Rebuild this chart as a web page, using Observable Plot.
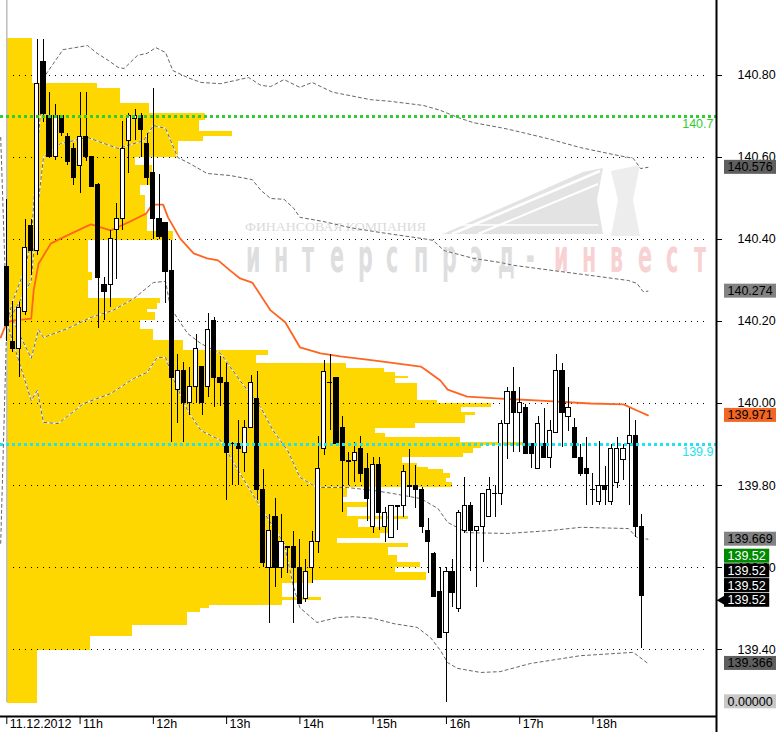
<!DOCTYPE html>
<html>
<head>
<meta charset="utf-8">
<script src="https://cdn.jsdelivr.net/npm/d3@7"></script>
<script src="https://cdn.jsdelivr.net/npm/@observablehq/plot@0.6"></script>
<style>
  html, body { margin: 0; padding: 0; background: #fff; }
  #chart { position: relative; width: 776px; height: 732px; overflow: hidden; background: #fff; }
  #chart > svg { position: absolute; left: 0; top: 0; }
</style>
</head>
<body>
<div id="chart"></div>
<script>
// ---------------- DATA ----------------
// 5-minute candles of 11.12.2012, starting 10:00
const opens = [
140.332,140.151,140.132,140.222,140.432,140.371,140.832,140.700,140.600,140.700,
140.651,140.620,140.580,140.651,140.600,140.532,140.290,140.290,140.422,140.451,
140.641,140.695,140.700,140.632,140.561,140.451,140.441,140.322,140.032,140.080,
140.000,140.041,140.090,140.041,140.200,140.061,140.051,139.902,139.900,139.880,
139.941,140.010,139.790,139.600,139.722,139.600,139.650,139.649,139.600,139.522,
139.600,139.661,139.890,140.051,140.061,139.941,139.859,139.859,139.890,139.841,
139.698,139.851,139.698,139.671,139.749,139.749,139.798,139.798,139.790,139.690,
139.632,139.541,139.441,139.590,139.500,139.688,139.751,139.688,139.698,139.722,
139.780,139.780,139.951,140.029,139.978,139.990,139.900,139.841,139.900,139.868,
139.929,140.080,139.968,139.941,139.868,139.841,139.790,139.759,139.798,139.759,
139.807,139.861,139.900,139.920,139.698,139.520];
const highs = [
140.498,140.249,140.246,140.449,140.449,140.888,140.888,140.759,140.729,140.700,
140.659,140.634,140.759,140.759,140.600,140.537,140.307,140.422,140.488,140.688,
140.707,140.717,140.707,140.659,140.768,140.559,140.441,140.398,140.120,140.100,
140.088,140.168,140.090,140.220,140.210,140.115,140.098,139.905,139.959,139.959,
140.068,140.078,139.839,139.729,139.768,139.729,139.651,139.688,139.668,139.620,
139.688,139.920,140.105,140.120,140.061,139.968,139.880,139.905,139.920,139.878,
139.868,139.868,139.746,139.749,139.750,139.849,139.888,139.849,139.795,139.720,
139.637,139.600,139.600,139.620,139.739,139.820,139.759,139.700,139.780,139.820,
139.800,139.959,140.039,140.088,140.039,139.998,139.900,139.968,139.988,139.959,
140.120,140.098,140.039,139.963,139.900,139.917,139.829,139.907,139.846,139.900,
139.917,139.900,139.988,139.959,139.729,139.520];
const lows = [
140.150,140.124,140.063,140.215,140.312,140.361,140.685,140.600,140.593,140.651,
140.580,140.532,140.512,140.590,140.529,140.183,140.202,140.234,140.302,140.422,
140.561,140.641,140.600,140.532,140.400,140.400,140.244,139.905,139.951,139.905,
139.971,140.000,139.971,140.015,139.990,139.993,139.763,139.800,139.800,139.832,
139.941,139.763,139.600,139.463,139.551,139.573,139.585,139.463,139.512,139.515,
139.561,139.634,139.873,139.934,139.900,139.734,139.800,139.807,139.807,139.712,
139.683,139.690,139.661,139.671,139.690,139.722,139.771,139.744,139.683,139.585,
139.529,139.429,139.271,139.502,139.490,139.683,139.590,139.551,139.612,139.722,
139.722,139.751,139.863,139.880,139.880,139.878,139.841,139.841,139.868,139.841,
139.929,139.893,139.932,139.868,139.822,139.751,139.751,139.751,139.751,139.751,
139.793,139.812,139.751,139.673,139.402,139.520];
const closes = [
140.190,140.132,140.232,140.380,140.371,140.780,140.707,140.600,140.700,140.659,
140.588,140.549,140.651,140.600,140.529,140.307,140.271,140.400,140.451,140.620,
140.700,140.700,140.668,140.549,140.451,140.407,140.320,140.061,140.080,140.000,
140.041,140.132,140.000,140.180,140.061,140.049,139.880,139.900,139.890,139.941,
140.051,139.790,139.610,139.690,139.600,139.661,139.648,139.600,139.512,139.588,
139.661,139.841,140.078,140.049,139.900,139.859,139.858,139.880,139.829,139.768,
139.851,139.732,139.732,139.749,139.748,139.832,139.797,139.790,139.698,139.661,
139.529,139.429,139.588,139.539,139.732,139.751,139.688,139.700,139.780,139.790,
139.779,139.951,140.029,139.978,140.000,139.878,139.878,139.951,139.868,139.932,
140.080,139.978,139.990,139.868,139.829,139.829,139.789,139.798,139.790,139.890,
139.890,139.890,139.920,139.698,139.530,139.520];

// VWAP (orange) and deviation bands (dashed grey): [time, price]
const vwap = [
["09:55",140.161],["10:00",140.198],["10:05",140.202],["10:20",140.207],["10:22",140.276],["10:26",140.341],
["10:36",140.390],["10:44",140.402],["11:03",140.429],["11:09",140.437],["11:25",140.422],["11:39",140.441],
["11:54",140.463],["11:59",140.485],["12:08",140.485],["12:12",140.454],["12:22",140.402],["12:33",140.366],
["12:44",140.354],["12:53",140.349],["13:03",140.324],["13:11",140.305],["13:21",140.295],["13:36",140.227],
["13:48",140.198],["14:00",140.137],["14:17",140.122],["14:33",140.115],["15:00",140.105],["15:39",140.090],
["15:44",140.080],["15:55",140.056],["16:01",140.034],["16:17",140.017],["16:44",140.012],["17:17",140.007],
["17:58",140.000],["18:25",139.998],["18:36",139.983],["18:45",139.971]];
const upperOuter = [
["09:55",140.649],["10:00",140.198],["10:05",140.250],["10:15",140.330],["10:20",140.398],["10:25",140.620],
["10:30",140.793],["10:33",140.807],["10:46",140.863],["10:52",140.866],["11:06",140.873],["11:14",140.854],
["11:23",140.837],["11:31",140.820],["11:36",140.817],["11:47",140.849],["11:55",140.854],["12:02",140.868],
["12:10",140.856],["12:16",140.812],["12:28",140.795],["12:39",140.783],["12:55",140.780],["13:18",140.795],
["13:28",140.776],["13:36",140.773],["13:47",140.790],["14:00",140.771],["14:10",140.783],["14:27",140.759],
["14:41",140.751],["14:58",140.741],["15:14",140.737],["15:41",140.727],["15:55",140.715],["16:09",140.698],
["16:22",140.685],["16:44",140.673],["16:55",140.666],["17:23",140.646],["17:50",140.624],["18:17",140.607],
["18:33",140.598],["18:39",140.573],["18:45",140.576]];
const upperInner = [
["10:00",140.198],["10:05",140.220],["10:20",140.300],["10:25",140.470],["10:30",140.600],["10:44",140.634],
["11:06",140.649],["11:31",140.622],["11:52",140.641],["12:00",140.678],["12:10",140.671],["12:20",140.600],
["12:30",140.585],["12:44",140.561],["13:03",140.556],["13:21",140.546],["13:28",140.520],["13:36",140.500],
["13:47",140.498],["13:55",140.476],["14:00",140.454],["14:19",140.444],["14:41",140.429],["15:06",140.417],
["15:41",140.402],["15:49",140.398],["15:58",140.373],["16:22",140.354],["16:44",140.344],["16:55",140.337],
["17:28",140.324],["18:04",140.310],["18:29",140.300],["18:36",140.293],["18:41",140.273],["18:45",140.274]];
const lowerInner = [
["10:00",140.198],["10:05",140.202],["10:20",140.110],["10:26",140.180],["10:30",140.161],["10:50",140.183],
["11:09",140.210],["11:27",140.227],["11:44",140.256],["12:00",140.295],["12:10",140.298],["12:14",140.234],
["12:28",140.171],["12:39",140.146],["12:55",140.122],["13:11",140.056],["13:28",139.990],["13:38",139.934],
["13:50",139.885],["14:00",139.820],["14:14",139.795],["14:39",139.795],["15:00",139.788],["15:17",139.780],
["15:39",139.768],["15:53",139.744],["16:01",139.710],["16:17",139.685],["16:50",139.683],["17:25",139.690],
["17:50",139.698],["18:29",139.695],["18:36",139.673],["18:45",139.669]];
const lowerOuter = [
["09:55",139.659],["10:00",140.198],["10:05",140.150],["10:20",140.007],["10:25",140.032],["10:30",139.954],
["10:42",139.951],["11:03",140.000],["11:25",140.024],["11:44",140.061],["11:55",140.076],["12:03",140.112],
["12:10",140.112],["12:17",140.056],["12:28",139.983],["12:39",139.934],["12:55",139.910],["13:11",139.829],
["13:28",139.746],["13:47",139.659],["13:55",139.551],["14:00",139.502],["14:14",139.466],["14:31",139.478],
["14:44",139.480],["15:00",139.476],["15:17",139.463],["15:36",139.454],["15:47",139.429],["15:55",139.398],
["16:01",139.368],["16:09",139.354],["16:28",139.344],["16:44",139.346],["17:09",139.366],["17:50",139.385],
["18:33",139.393],["18:45",139.366]];

// Volume profile rows: [price high, price low, volume]
const profile = [
[140.890,140.780,71],[140.780,140.768,254],[140.768,140.732,319],[140.732,140.707,400],
[140.707,140.690,558],[140.690,140.663,541],[140.663,140.651,635],[140.651,140.639,553],
[140.639,140.600,482],[140.600,140.580,361],[140.580,140.532,409],[140.532,140.507,375],
[140.507,140.463,389],[140.463,140.420,395],[140.420,140.398,468],[140.398,140.320,228],
[140.320,140.300,240],[140.300,140.256,228],[140.256,140.244,431],[140.244,140.229,423],
[140.229,140.222,395],[140.222,140.202,417],[140.202,140.180,375],[140.180,140.154,412],
[140.154,140.129,496],[140.129,140.117,736],[140.117,140.098,702],[140.098,140.085,956],
[140.085,140.076,1063],[140.076,140.066,1094],[140.066,140.061,1131],[140.061,140.049,1094],
[140.049,140.007,1156],[140.007,140.000,1213],[140.000,139.990,1365],[139.990,139.978,1280],
[139.978,139.971,1320],[139.971,139.951,1292],[139.951,139.939,1150],[139.939,139.927,1038],
[139.927,139.917,1066],[139.917,139.905,1277],[139.905,139.898,1455],[139.898,139.890,1337],
[139.890,139.878,1314],[139.878,139.868,1286],[139.868,139.854,1114],[139.854,139.844,1156],
[139.844,139.839,1187],[139.839,139.829,1230],[139.829,139.817,1250],[139.817,139.807,1238],
[139.807,139.795,1255],[139.795,139.771,959],[139.771,139.759,945],[139.759,139.746,1018],
[139.746,139.724,959],[139.724,139.717,1131],[139.717,139.698,990],[139.698,139.683,1080],
[139.683,139.671,1052],[139.671,139.659,931],[139.659,139.649,1131],[139.649,139.629,1074],
[139.629,139.612,1100],[139.612,139.600,1165],[139.600,139.588,1094],[139.588,139.568,1182],
[139.568,139.561,863],[139.561,139.527,776],[139.527,139.520,885],[139.520,139.507,776],
[139.507,139.500,570],[139.500,139.490,544],[139.490,139.459,508],[139.459,139.432,353],
[139.432,139.398,234],[139.398,139.268,85]];
const profileMax = 2000;

const highVolumeLevel = 140.70;  // green dotted
const pocLevel = 139.90;         // cyan dotted
const levelLabels = ["140.7", "139.9"];

const yTicks = [139.40, 139.60, 139.80, 140.00, 140.20, 140.40, 140.60, 140.80];
const hourTicks = ["10:00","11:00","12:00","13:00","14:00","15:00","16:00","17:00","18:00"];
const hourLabels = ["11.12.2012","11h","12h","13h","14h","15h","16h","17h","18h"];

const tagValues = [140.576, 140.274, 139.971, 139.669, 139.52, 139.52, 139.52, 139.52, 139.366, 0];
const tagLabels = ["140.576","140.274","139.971","139.669","139.52","139.52","139.52","139.52","139.366","0.00000"];
const tagKinds  = ["outer","inner","vwap","inner","last","price","price","price","outer","indicator"];

const viewStart = "09:54:50", viewEnd = "19:41:09";
const priceBottom = 139.2366, priceTop = 140.9829;

// ---------------- CHART ----------------
const W = 776, H = 732;
const T = s => new Date(Date.UTC(2012, 11, 11, +s.slice(0, 2), +s.slice(3, 5), +(s.slice(6, 8) || 0)));
const xDomain = [T(viewStart), T(viewEnd)];
const yDomain = [priceBottom, priceTop];
const xMax = xDomain[1];
const font = "'Liberation Sans', Arial, sans-serif";
const baseStyle = {background: "transparent", overflow: "visible", fontFamily: font, fontSize: "12.5px", color: "#000"};

const candles = opens.map((o, i) => ({
  t: new Date(Date.UTC(2012, 11, 11, 10, 5 * i)), o, h: highs[i], l: lows[i], c: closes[i]
}));
const halfBody = 102000; // ms

const tagStyle = {
  outer: {fill: "#5f5f5f", color: "#000"},
  inner: {fill: "#828282", color: "#000"},
  vwap: {fill: "#f26522", color: "#000"},
  last: {fill: "#008a00", color: "#fff"},
  price: {fill: "#000", color: "#fff"},
  indicator: {fill: "#c8c8c8", color: "#000"}
};
const tags = tagValues.map((v, i) => ({
  v: Math.max(v, priceBottom), clamped: v < priceBottom, label: tagLabels[i], kind: tagKinds[i]
}));
{
  const seen = new Map();
  for (let i = tags.length - 1; i >= 0; i--) {
    const k0 = tags[i].clamped ? 1 : 0;
    const k = seen.has(tags[i].v) ? seen.get(tags[i].v) : k0;
    tags[i].stack = k; seen.set(tags[i].v, k + 1);
  }
}
const textW = s => [...s].reduce((a, ch) => a + (ch === "." ? 3.47 : 6.95), 0);
const STEP = 14.7;

const tagMarks = [];
tags.forEach(t => {
  const w = textW(t.label) + 7;
  const st = tagStyle[t.kind];
  tagMarks.push(Plot.rect([t], {
    x1: () => xMax, x2: () => xMax, y1: d => d.v, y2: d => d.v,
    insetLeft: 8, insetRight: -8 - w,
    insetTop: -7 - STEP * t.stack, insetBottom: STEP * t.stack - 7,
    fill: st.fill
  }));
  tagMarks.push(Plot.text([t], {
    x: () => xMax, y: d => d.v, text: d => d.label, dx: 11, dy: -STEP * t.stack,
    textAnchor: "start", fill: st.color, fontSize: 12.5
  }));
});
const lastTag = tags[7];

const bandMarks = [];
[upperOuter, upperInner, lowerInner, lowerOuter].forEach(band => {
  bandMarks.push(Plot.line(band, {x: d => T(d[0]), y: d => d[1], stroke: "#ffffff", strokeWidth: 1.1}));
  bandMarks.push(Plot.line(band, {x: d => T(d[0]), y: d => d[1], stroke: "#666666", strokeWidth: 1, strokeDasharray: "3,3"}));
});

// Layer 0: watermark
const chart = document.getElementById("chart");
const pitch = 28 / 0.45;
const xs = n => d3.range(n).map(k => (k * pitch).toFixed(1)).join(" ");
const xs2 = d3.range(11, 17).map(k => (k * pitch).toFixed(1)).join(" ");
chart.insertAdjacentHTML("beforeend", `
<svg width="${W}" height="${H}" xmlns="http://www.w3.org/2000/svg">
  <g>
    <polygon points="443,234 583,172 603,168 597,200 603,234" fill="#e3e3e3"/>
    <line x1="452" y1="234" x2="600" y2="171" stroke="#fff" stroke-width="2.5"/>
    <line x1="478" y1="234" x2="598" y2="184" stroke="#fff" stroke-width="2"/>
    <line x1="445" y1="225" x2="598" y2="225" stroke="#fff" stroke-width="1.5"/>
    <polygon points="611,171 640,165 633,200 640,236 611,236 618,200" fill="#ededed"/>
  </g>
  <text x="245" y="231" font-family="'Liberation Serif', 'DejaVu Serif', serif" font-size="13.5" fill="#dadada" textLength="181" lengthAdjust="spacingAndGlyphs">ФИНАНСОВАЯ КОМПАНИЯ</text>
  <text transform="translate(246,272) scale(0.45,1)" font-family="'DejaVu Sans', sans-serif" font-weight="bold" font-size="46">
    <tspan x="${xs(11)}" fill="#dedede">интерспрэд-</tspan><tspan x="${xs2}" fill="#f8d2d2">инвест</tspan>
  </text>
</svg>`);

// Layer 1: volume profile
const profilePlot = Plot.plot({
  width: W, height: H, marginLeft: 7, marginRight: 60, marginTop: 0, marginBottom: 16,
  style: baseStyle,
  x: {domain: [0, profileMax], axis: null},
  y: {domain: yDomain, axis: null},
  marks: [
    Plot.rect(profile, {x1: () => 0, x2: d => d[2], y1: d => d[1], y2: d => d[0], fill: "#ffd700", shapeRendering: "crispEdges"})
  ]
});
chart.appendChild(profilePlot);

// Layer 2: price chart
const hours = hourTicks.map(T);
const mainPlot = Plot.plot({
  width: W, height: H, marginLeft: 0, marginRight: 60, marginTop: 0, marginBottom: 16,
  style: baseStyle,
  x: {type: "utc", domain: xDomain},
  y: {domain: yDomain},
  marks: [
    Plot.ruleY(yTicks, {stroke: "#000", strokeDasharray: "1,5", insetLeft: 13, insetRight: 11}),
    Plot.ruleX([T("10:00")], {stroke: "#bdbdbd", strokeWidth: 1.5, insetBottom: 14}),
    ...bandMarks,
    Plot.line(vwap, {x: d => T(d[0]), y: d => d[1], stroke: "#ff6420", strokeWidth: 1.8}),
    Plot.ruleX(candles, {x: "t", y1: "l", y2: "h", stroke: "#000", strokeWidth: 1, shapeRendering: "crispEdges"}),
    Plot.rect(candles, {
      x1: d => new Date(+d.t - halfBody), x2: d => new Date(+d.t + halfBody),
      y1: "o", y2: "c",
      fill: d => d.c >= d.o ? "#fff" : "#000", stroke: "#000", strokeWidth: 1, shapeRendering: "crispEdges"
    }),
    Plot.ruleY([highVolumeLevel], {stroke: "#33cc33", strokeWidth: 3, strokeDasharray: "3,3"}),
    Plot.ruleY([pocLevel], {stroke: "#22e3ec", strokeWidth: 3, strokeDasharray: "3,3"}),
    Plot.text([highVolumeLevel], {y: d => d, frameAnchor: "right", textAnchor: "end", dx: -3, dy: 8, text: () => levelLabels[0], fill: "#33cc33", fontSize: 12.5}),
    Plot.text([pocLevel], {y: d => d, frameAnchor: "right", textAnchor: "end", dx: -3, dy: 8, text: () => levelLabels[1], fill: "#22e3ec", fontSize: 12.5}),
    Plot.ruleY([priceBottom], {stroke: "#000", strokeWidth: 2}),
    Plot.ruleX([xMax], {stroke: "#000", strokeWidth: 2, insetBottom: -16}),
    Plot.axisY(yTicks, {anchor: "right", tickSize: 5, tickPadding: 16, tickFormat: d3.format(".2f"), label: null, fontSize: 12.5}),
    Plot.axisX(hours, {anchor: "bottom", tickSize: 8, tickFormat: () => "", label: null}),
    Plot.text(hours, {x: d => d, text: (d, i) => hourLabels[i], frameAnchor: "bottom", textAnchor: "start", lineAnchor: "top", dx: 3, dy: 3, fontSize: 12.5}),
    ...tagMarks,
    Plot.dot([lastTag], {x: () => xMax, y: d => d.v, symbol: "triangle", rotate: -90, r: 4.6, fill: "#000", dx: 7.3})
  ]
});
chart.appendChild(mainPlot);
</script>
</body>
</html>
